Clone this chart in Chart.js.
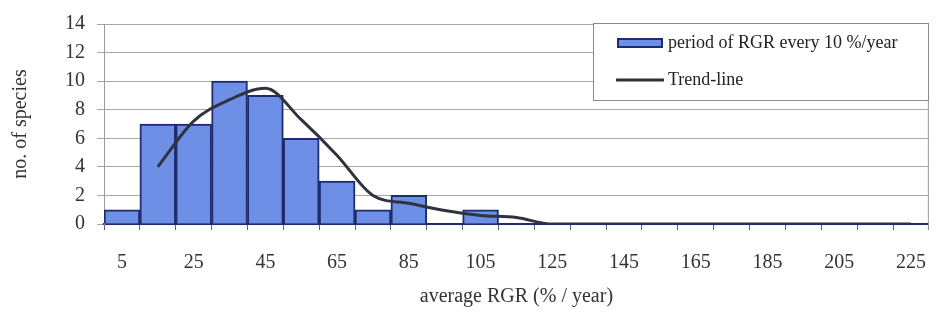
<!DOCTYPE html>
<html><head><meta charset="utf-8">
<script src="https://cdn.jsdelivr.net/npm/chart.js@4.4.1/dist/chart.umd.min.js"></script>
<style>html,body{margin:0;padding:0;background:#fff;}#wrap{width:947px;height:321px;}</style>
</head><body><div id="wrap"><canvas id="c" width="947" height="321"></canvas></div>
<script>
const categories = ['5','15','25','35','45','55','65','75','85','95','105','115','125','135','145','155','165','175','185','195','205','215','225'];
const speciesCounts = [1,7,7,10,9,6,3,1,2,0,1,0,0,0,0,0,0,0,0,0,0,0,0];
const trendValues = [null,4,7.2,8.7,9.5,7.3,4.8,2,1.45,0.95,0.6,0.45,0,0,0,0,0,0,0,0,0,0,0];
const yTicks = [0,2,4,6,8,10,12,14];
const seriesNames = ['period of RGR every 10 %/year','Trend-line'];
const axisTitles = {x:'average RGR (% / year)', y:'no. of species'};

const FONT = "'Liberation Serif', 'Times New Roman', serif";
const BAR_FILL = '#6d8fe6', BAR_EDGE = '#1f2c6c', LINE_COL = '#30333f';

const legendPlugin = {
  id: 'boxLegend',
  afterDraw(chart) {
    const ctx = chart.ctx;
    const bx = 593, by = 23, bw = 335, bh = 77;
    ctx.save();
    ctx.fillStyle = '#fff';
    ctx.fillRect(bx, by, bw, bh);
    ctx.strokeStyle = '#8a8a8a';
    ctx.lineWidth = 1;
    ctx.strokeRect(bx + 0.5, by + 0.5, bw, bh);
    ctx.fillStyle = BAR_FILL;
    ctx.fillRect(618, 39, 44, 8);
    ctx.strokeStyle = BAR_EDGE;
    ctx.lineWidth = 2;
    ctx.strokeRect(618, 39, 44, 8);
    ctx.strokeStyle = LINE_COL;
    ctx.lineWidth = 3;
    ctx.beginPath(); ctx.moveTo(616, 80); ctx.lineTo(664, 80); ctx.stroke();
    ctx.fillStyle = '#222';
    ctx.font = '18px ' + FONT;
    ctx.textBaseline = 'middle';
    ctx.fillText(seriesNames[0], 668, 43);
    ctx.fillText(seriesNames[1], 668, 80);
    ctx.restore();
  }
};
const frameLine = {
  id: 'frameLine',
  beforeDatasetsDraw(chart) {
    const a = chart.chartArea, ctx = chart.ctx;
    ctx.save();
    ctx.strokeStyle = '#9a9a9a'; ctx.lineWidth = 1;
    ctx.beginPath(); ctx.moveTo(a.right - 0.5, a.top); ctx.lineTo(a.right - 0.5, a.bottom + 6); ctx.stroke();
    ctx.restore();
  }
};

new Chart(document.getElementById('c'), {
  data: {
    labels: categories,
    datasets: [
      { type: 'line', label: seriesNames[1], data: trendValues, borderColor: LINE_COL, borderWidth: 3,
        pointRadius: 0, cubicInterpolationMode: 'monotone', order: 0, spanGaps: false },
      { type: 'bar', label: seriesNames[0], data: speciesCounts, backgroundColor: BAR_FILL,
        borderColor: BAR_EDGE, borderWidth: 2, barPercentage: 1, categoryPercentage: 1, order: 1 }
    ]
  },
  options: {
    responsive: false, animation: false, devicePixelRatio: 1,
    layout: { padding: { top: 17, right: 3, left: 0, bottom: 0 } },
    plugins: { legend: { display: false }, tooltip: { enabled: false } },
    scales: {
      x: {
        offset: true,
        grid: { offset: true, drawOnChartArea: false, drawTicks: true, tickLength: 6, color: '#5a6078' },
        border: { color: BAR_EDGE, width: 2 },
        ticks: { autoSkip: false, maxRotation: 0, padding: 21, color: '#333',
          font: { family: FONT, size: 20 },
          callback: (v, i) => (i % 2 === 0 ? categories[i] : '') },
        title: { display: true, text: axisTitles.x, color: '#333', font: { family: FONT, size: 20 },
          padding: { top: 0, bottom: 12 } },
        afterFit: s => { s.height = 97; }
      },
      y: {
        min: 0, max: 14,
        afterBuildTicks: s => { s.ticks = yTicks.map(v => ({ value: v })); },
        grid: { color: '#a8a8a8', tickLength: 7 },
        border: { color: '#9a9a9a', width: 1 },
        ticks: { padding: 12, color: '#333', font: { family: FONT, size: 20 } },
        title: { display: true, text: axisTitles.y, color: '#333', font: { family: FONT, size: 20 },
          padding: { top: 9, bottom: 0 } },
        afterFit: s => { s.width = 104; }
      }
    }
  },
  plugins: [frameLine, legendPlugin]
});
</script></body></html>
